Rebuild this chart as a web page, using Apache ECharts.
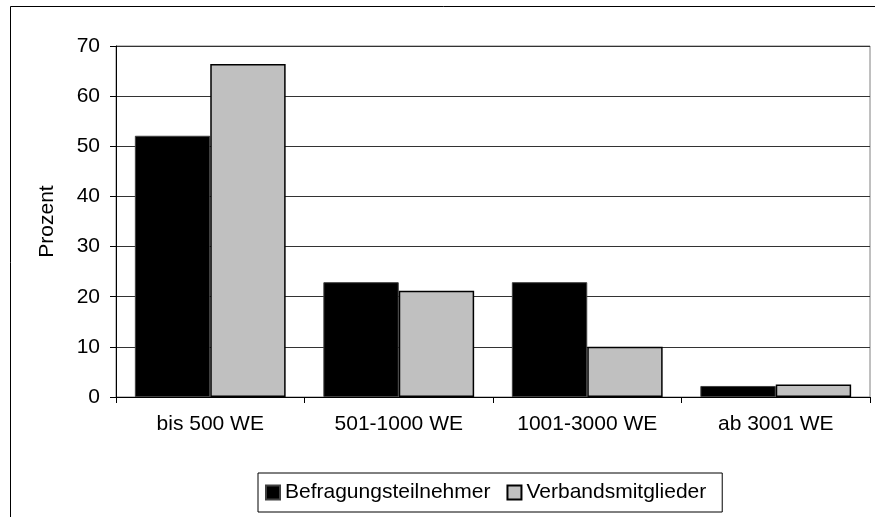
<!DOCTYPE html>
<html>
<head>
<meta charset="utf-8">
<script src="https://cdn.jsdelivr.net/npm/echarts@6/dist/echarts.min.js"></script>
<style>
  html, body { margin: 0; padding: 0; background: #fff; }
  #chart { width: 875px; height: 517px; }
</style>
</head>
<body>
<div id="chart"></div>
<script>
// Kategorien und Werte
const categories = ['bis 500 WE', '501-1000 WE', '1001-3000 WE', 'ab 3001 WE']
const befragung = [52.1, 22.9, 22.9, 2.2]
const verband = [66.4, 21.2, 10.0, 2.5]
const seriesNames = ['Befragungsteilnehmer', 'Verbandsmitglieder']

const chart = echarts.init(document.getElementById('chart'))

const font = 'Liberation Sans, Arial, sans-serif'

chart.setOption({
  backgroundColor: '#fff',
  animation: false,
  textStyle: { fontFamily: font },
  graphic: [
    {
      type: 'rect',
      shape: { x: 10.5, y: 6.5, width: 900, height: 600 },
      style: { fill: 'none', stroke: '#000', lineWidth: 1 },
      silent: true,
      z: -10
    }
  ],
  grid: {
    left: 116, top: 46, right: 5, bottom: 120,
    show: true, borderColor: '#808080', borderWidth: 1
  },
  legend: {
    data: seriesNames,
    left: 258, top: 473,
    padding: [9, 16, 9, 7],
    itemGap: 16,
    itemWidth: 14, itemHeight: 14,
    icon: 'rect',
    backgroundColor: '#fff',
    borderColor: '#000',
    borderWidth: 1,
    borderRadius: 0,
    textStyle: { fontSize: 21, color: '#000', fontFamily: font }
  },
  xAxis: {
    type: 'category',
    data: categories,
    axisLine: { lineStyle: { color: '#000', width: 1 } },
    axisTick: { show: true, length: 6, alignWithLabel: false, lineStyle: { color: '#000' } },
    axisLabel: { fontSize: 21, color: '#000', margin: 17 },
    splitLine: { show: false }
  },
  yAxis: {
    type: 'value',
    min: 0, max: 70, interval: 10,
    name: 'Prozent',
    nameLocation: 'middle',
    nameRotate: 90,
    nameGap: 58,
    nameTextStyle: { fontSize: 21, color: '#000' },
    axisLine: { show: true, lineStyle: { color: '#000', width: 1 } },
    axisTick: { show: true, length: 6, lineStyle: { color: '#000' } },
    axisLabel: { fontSize: 21, color: '#000', margin: 16 },
    splitLine: { show: true, lineStyle: { color: '#333', width: 1 } }
  },
  series: [
    {
      name: seriesNames[0],
      type: 'bar',
      data: befragung,
      barGap: '0%',
      barCategoryGap: '20%',
      itemStyle: { color: '#000', borderColor: '#404040', borderWidth: 1 }
    },
    {
      name: seriesNames[1],
      type: 'bar',
      data: verband,
      itemStyle: { color: '#c0c0c0', borderColor: '#000', borderWidth: 1.5 }
    }
  ]
})
</script>
</body>
</html>
